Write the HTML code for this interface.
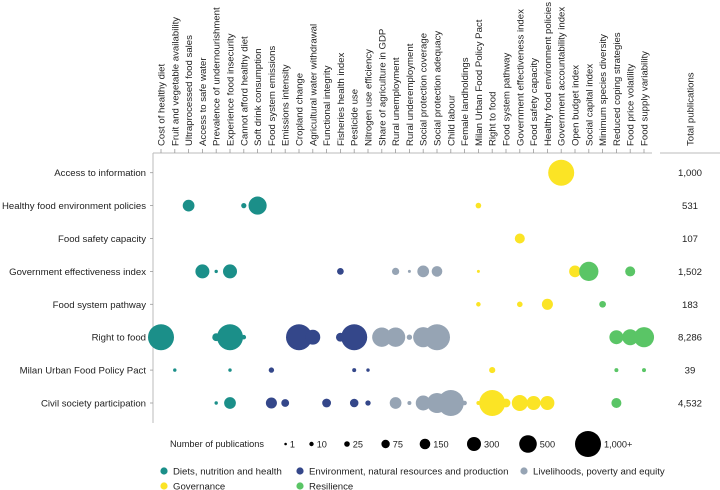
<!DOCTYPE html>
<html><head><meta charset="utf-8"><style>
body{margin:0;background:#fff}
svg{display:block;font-family:"Liberation Sans",sans-serif}
</style></head><body>
<svg id="chart" width="720" height="490" viewBox="0 0 720 490"></svg>
<script>
const columns=["Cost of healthy diet","Fruit and vegetable availability","Ultraprocessed food sales","Access to safe water","Prevalence of undernourishment","Experience food insecurity","Cannot afford healthy diet","Soft drink consumption","Food system emissions","Emissions intensity","Cropland change","Agricultural water withdrawal","Functional integrity","Fisheries health index","Pesticide use","Nitrogen use efficiency","Share of agriculture in GDP","Rural unemployment","Rural underemployment","Social protection coverage","Social protection adequacy","Child labour","Female landholdings","Milan Urban Food Policy Pact","Right to food","Food system pathway","Government effectiveness index","Food safety capacity","Healthy food environment policies","Government accountability index","Open budget index","Social capital index","Minimum species diversity","Reduced coping strategies","Food price volatility","Food supply variability"];
const columnGroups=[0,0,0,0,0,0,0,0,1,1,1,1,1,1,1,1,2,2,2,2,2,2,2,3,3,3,3,3,3,3,3,4,4,4,4,4];
const rows=["Access to information","Healthy food environment policies","Food safety capacity","Government effectiveness index","Food system pathway","Right to food","Milan Urban Food Policy Pact","Civil society participation"];
const totals=["1,000","531","107","1,502","183","8,286","39","4,532"];
const groupNames=["Diets, nutrition and health","Environment, natural resources and production","Livelihoods, poverty and equity","Governance","Resilience"];
const groupColors=["#1b8f89","#34478a","#96a4b4","#fbe425","#5ac566"];
const bubbleRow=[0, 1,1,1,1, 2, 3,3,3,3,3,3,3,3,3,3,3,3, 4,4,4,4, 5,5,5,5,5,5,5,5,5,5,5,5,5,5,5,5, 6,6,6,6,6,6,6,6, 7,7,7,7,7,7,7,7,7,7,7,7,7,7,7,7,7,7,7,7,7,7];
const bubbleCol=[29, 2,6,7,23, 26, 3,4,5,13,17,18,19,20,23,30,31,34, 23,26,28,32, 0,4,5,6,10,11,13,14,16,17,18,19,20,33,34,35, 1,5,8,14,15,24,33,35, 4,5,8,9,12,14,15,17,18,19,20,21,22,23,24,25,26,27,28,33];
const bubbleVal=[1000, 200,20,530,25, 130, 300,5,300,45,55,3,200,150,3,200,600,130, 12,25,170,45, 1000,65,1000,12,1000,350,90,1000,600,600,22,650,1000,300,410,650, 5,5,22,8,5,35,8,8, 5,200,170,65,90,80,22,200,8,350,650,1000,12,8,1000,90,410,300,300,130];
const legendValues=[1,10,25,75,150,300,500,1000];
const legendLabels=["1","10","25","75","150","300","500","1,000+"];
const radiusBreaks=[1.3,2.2,2.8,4.2,5.3,7,8.8,13];

const svg=document.getElementById('chart');
const NS="http://www.w3.org/2000/svg";
function mk(tag,attrs,parent){const e=document.createElementNS(NS,tag);for(const k in attrs)e.setAttribute(k,attrs[k]);(parent||svg).appendChild(e);return e;}
const x0=161,dx=13.8,y0=172.7,dy=32.9;
function xPos(i){return x0+i*dx;}
function yPos(i){return y0+i*dy;}
function rScale(v){
  if(v<=legendValues[0])return radiusBreaks[0];
  for(let i=1;i<legendValues.length;i++){if(v<=legendValues[i]){const t=(v-legendValues[i-1])/(legendValues[i]-legendValues[i-1]);return radiusBreaks[i-1]+t*(radiusBreaks[i]-radiusBreaks[i-1]);}}
  return radiusBreaks[radiusBreaks.length-1];
}
// axes
let ax=mk('line',{x1:153,y1:153,x2:153,y2:423,stroke:'#bbb','stroke-width':1});


ax=mk('line',{x1:153,y1:153,x2:652,y2:153,stroke:'#bbb','stroke-width':1});


ax=mk('line',{x1:660,y1:153,x2:720,y2:153,stroke:'#bbb','stroke-width':1});


columns.forEach((c,i)=>{
  const x=xPos(i);
  const t=mk('line',{x1:x,y1:149,x2:x,y2:153,stroke:'#999','stroke-width':0.8});
  
  
  const tx=mk('text',{x:0,y:0,transform:`translate(${x+3.5},146) rotate(-90)`,'font-size':'9.6',fill:'#222'});
  tx.textContent=c;
  
  
});
let th=mk('text',{x:0,y:0,transform:`translate(693.5,146) rotate(-90)`,'font-size':'9.6',fill:'#222'});
th.textContent='Total publications';


rows.forEach((r,i)=>{
  const y=yPos(i);
  const t=mk('line',{x1:150,y1:y,x2:153,y2:y,stroke:'#999','stroke-width':0.8});
  
  
  const tx=mk('text',{x:146,y:y+3.5,'font-size':'9.6','text-anchor':'end',fill:'#222'});
  tx.textContent=r;
  
  
  const tt=mk('text',{x:690,y:y+3.5,'font-size':'9.6','text-anchor':'middle',fill:'#222'});
  tt.textContent=totals[i];
  
  
});
bubbleVal.forEach((v,k)=>{
  const c=mk('circle',{cx:xPos(bubbleCol[k]),cy:yPos(bubbleRow[k]),r:rScale(v),fill:groupColors[columnGroups[bubbleCol[k]]]});
  
  
});
// size legend
let lt=mk('text',{x:170,y:447,'font-size':'9.2',fill:'#222'});
lt.textContent='Number of publications';


const legendX=[285.6,311.5,347,385.6,425,474,528,588];
legendValues.forEach((v,i)=>{
  const r=rScale(v);
  const c=mk('circle',{cx:legendX[i],cy:444,r:r,fill:'#000'});
  
  
  const t=mk('text',{x:legendX[i]+r+3,y:447.5,'font-size':'9.2',fill:'#222'});
  t.textContent=legendLabels[i];
  
  
});
const gPos=[[164,471],[300,471],[524,471],[164,486],[300,486]];
groupNames.forEach((g,i)=>{
  const c=mk('circle',{cx:gPos[i][0],cy:gPos[i][1],r:3.6,fill:groupColors[i]});
  
  
  const t=mk('text',{x:gPos[i][0]+9,y:gPos[i][1]+3.3,'font-size':'9.6',fill:'#222'});
  t.textContent=g;
  
  
});
</script>
</body></html>
